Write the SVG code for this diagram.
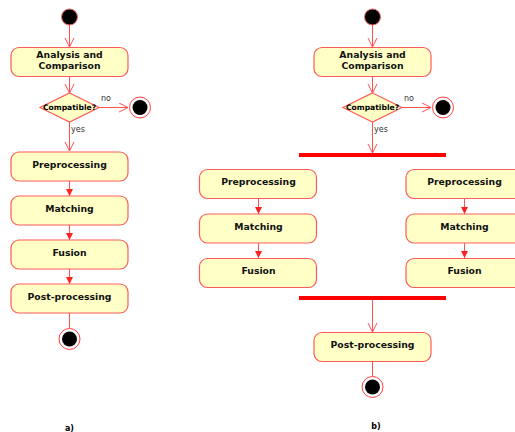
<svg xmlns="http://www.w3.org/2000/svg" width="515" height="432" viewBox="0 0 515 432">
<style>
.box{fill:#ffffc6;stroke:#ff5a5a;stroke-width:1.2}
.t{font-family:"DejaVu Sans",sans-serif;font-weight:bold;font-size:9.3px;fill:#111;text-anchor:middle}
.ts{font-family:"DejaVu Sans",sans-serif;font-weight:bold;font-size:7.6px;fill:#000;text-anchor:middle}
.lb{font-family:"DejaVu Sans",sans-serif;font-size:8px;fill:#333}
.cap{font-family:"DejaVu Sans",sans-serif;font-weight:bold;font-size:8px;fill:#000;text-anchor:middle}
.ln{stroke:#ff5050;stroke-width:1;fill:none}
.oa{marker-end:url(#open)}
.fa{marker-end:url(#fill)}
.bar{fill:#ff0000}
.start{fill:#000;stroke:#ff6a6a;stroke-width:1}
.endo{fill:#fff;stroke:#ff4040;stroke-width:1}
</style>
<defs>
<marker id="open" markerWidth="12" markerHeight="12" refX="10" refY="5" orient="auto" markerUnits="userSpaceOnUse">
<path d="M1,0.5 L10,5 L1,9.5" fill="none" stroke="#ff5050" stroke-width="1"/>
</marker>
<marker id="fill" markerWidth="10" markerHeight="10" refX="7" refY="3.5" orient="auto" markerUnits="userSpaceOnUse">
<path d="M0,0 L7,3.5 L0,7 Z" fill="#ff2020"/>
</marker>
</defs>
<g id="connectors">
<line class="ln oa" x1="69.5" y1="25" x2="69.5" y2="47"/>
<line class="ln oa" x1="69.5" y1="77" x2="69.5" y2="93"/>
<line class="ln oa" x1="99" y1="107.5" x2="128" y2="107.5"/>
<line class="ln oa" x1="69.5" y1="122" x2="69.5" y2="151"/>
<line class="ln fa" x1="69.5" y1="181" x2="69.5" y2="196"/>
<line class="ln fa" x1="69.5" y1="225" x2="69.5" y2="240"/>
<line class="ln fa" x1="69.5" y1="269" x2="69.5" y2="284"/>
<line class="ln" x1="69.5" y1="313" x2="69.5" y2="328"/>
<line class="ln oa" x1="372.5" y1="25" x2="372.5" y2="47"/>
<line class="ln oa" x1="372.5" y1="77" x2="372.5" y2="93"/>
<line class="ln oa" x1="402" y1="107.5" x2="431" y2="107.5"/>
<line class="ln oa" x1="372.5" y1="122" x2="372.5" y2="153"/>
<line class="ln fa" x1="258.5" y1="199" x2="258.5" y2="214"/>
<line class="ln fa" x1="258.5" y1="243" x2="258.5" y2="258"/>
<line class="ln fa" x1="464.5" y1="199" x2="464.5" y2="214"/>
<line class="ln fa" x1="464.5" y1="243" x2="464.5" y2="258"/>
<line class="ln oa" x1="372.5" y1="300" x2="372.5" y2="332"/>
<line class="ln" x1="372.5" y1="362" x2="372.5" y2="376"/>
</g>
<g id="a-start"><circle class="start" cx="69.5" cy="17" r="8"/></g>
<g id="a-analysis"><rect class="box" x="11" y="47.5" width="117" height="29" rx="8"/><text class="t" x="69.5" y="58">Analysis and</text><text class="t" x="69.5" y="69">Comparison</text></g>
<g id="a-decision"><polygon class="box" points="69.5,93 99,107.5 69.5,122 40,107.5"/><text class="ts" x="69.5" y="110">Compatible?</text></g>
<g id="a-nolabel"><text class="lb" x="101" y="101">no</text><text class="lb" x="71" y="132">yes</text></g>
<g id="a-end1"><circle class="endo" cx="140" cy="107.5" r="10.5"/><circle cx="140" cy="107.5" r="7.5" fill="#000"/></g>
<g id="a-pre"><rect class="box" x="11" y="152" width="117" height="29" rx="8"/><text class="t" x="69.5" y="167.5">Preprocessing</text></g>
<g id="a-match"><rect class="box" x="11" y="196" width="117" height="29" rx="8"/><text class="t" x="69.5" y="211.5">Matching</text></g>
<g id="a-fusion"><rect class="box" x="11" y="240" width="117" height="29" rx="8"/><text class="t" x="69.5" y="255.5">Fusion</text></g>
<g id="a-post"><rect class="box" x="11" y="284" width="117" height="29" rx="8"/><text class="t" x="69.5" y="299.5">Post-processing</text></g>
<g id="a-end2"><circle class="endo" cx="69.5" cy="339" r="10.5"/><circle cx="69.5" cy="339" r="7.5" fill="#000"/></g>
<g id="b-start"><circle class="start" cx="372.5" cy="17" r="8"/></g>
<g id="b-analysis"><rect class="box" x="314" y="47.5" width="117" height="29" rx="8"/><text class="t" x="372.5" y="58">Analysis and</text><text class="t" x="372.5" y="69">Comparison</text></g>
<g id="b-decision"><polygon class="box" points="372.5,93 402,107.5 372.5,122 343,107.5"/><text class="ts" x="372.5" y="110">Compatible?</text></g>
<g id="b-labels"><text class="lb" x="404" y="101">no</text><text class="lb" x="374" y="132">yes</text></g>
<g id="b-end1"><circle class="endo" cx="443" cy="107.5" r="10.5"/><circle cx="443" cy="107.5" r="7.5" fill="#000"/></g>
<g id="b-fork"><rect class="bar" x="299" y="153" width="147" height="4"/></g>
<g id="b-pre1"><rect class="box" x="199.5" y="169.5" width="117" height="29" rx="8"/><text class="t" x="258.5" y="185">Preprocessing</text></g>
<g id="b-match1"><rect class="box" x="199.5" y="214" width="117" height="29" rx="8"/><text class="t" x="258.5" y="229.5">Matching</text></g>
<g id="b-fusion1"><rect class="box" x="199.5" y="258.5" width="117" height="29" rx="8"/><text class="t" x="258.5" y="274">Fusion</text></g>
<g id="b-pre2"><rect class="box" x="406" y="169.5" width="117" height="29" rx="8"/><text class="t" x="464.5" y="185">Preprocessing</text></g>
<g id="b-match2"><rect class="box" x="406" y="214" width="117" height="29" rx="8"/><text class="t" x="464.5" y="229.5">Matching</text></g>
<g id="b-fusion2"><rect class="box" x="406" y="258.5" width="117" height="29" rx="8"/><text class="t" x="464.5" y="274">Fusion</text></g>
<g id="b-join"><rect class="bar" x="299" y="296" width="147" height="4"/></g>
<g id="b-post"><rect class="box" x="314" y="332.5" width="117" height="29" rx="8"/><text class="t" x="372.5" y="348">Post-processing</text></g>
<g id="b-end2"><circle class="endo" cx="372.5" cy="387" r="10.5"/><circle cx="372.5" cy="387" r="7.5" fill="#000"/></g>
<g id="captions"><text class="cap" x="69.5" y="431">a)</text><text class="cap" x="376" y="429">b)</text></g>
</svg>
